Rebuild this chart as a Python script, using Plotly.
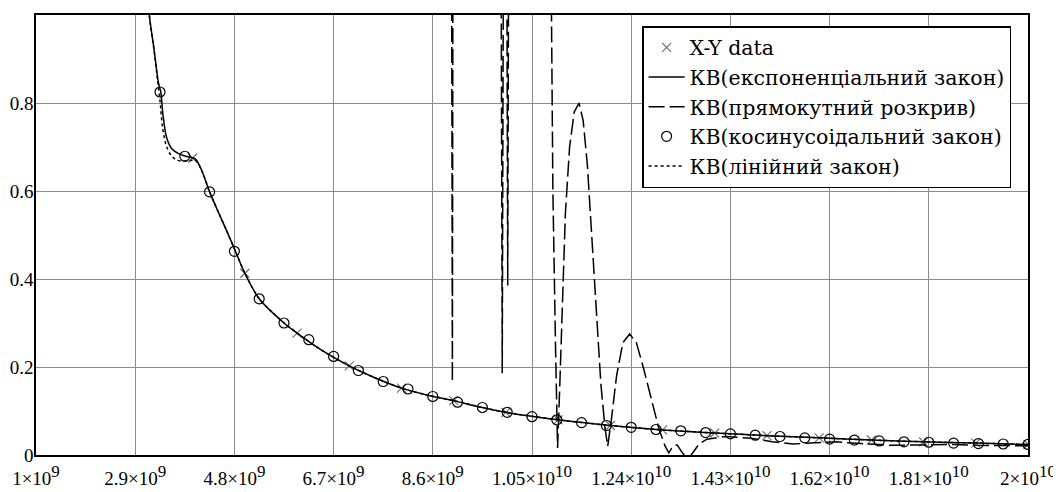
import plotly.graph_objects as go

# ---------------- data (frequency in GHz) ----------------
xy_f = [4, 5, 6, 7, 8, 9, 10, 11, 12, 13, 14, 15, 16, 17, 18, 19, 20]
xy_y = [0.675, 0.413, 0.277, 0.2025, 0.152, 0.1236, 0.097, 0.080, 0.067, 0.057,
        0.050, 0.044, 0.039, 0.034, 0.030, 0.027, 0.024]

exp_f = [3.10, 3.17, 3.26, 3.345, 3.39, 3.43, 3.50, 3.60, 3.73, 3.87, 4.05, 4.18,
         4.325, 4.50, 4.65, 4.81, 5.0, 5.275, 5.75, 6.0, 6.5, 7.0, 7.5, 8.0, 8.5,
         9.0, 9.5, 10.0, 11.0, 12.0, 13.0, 14.0, 15.0, 16.0, 17.0, 18.0, 19.0, 20.0]
exp_y = [1.12, 1.0, 0.923, 0.846, 0.825, 0.775, 0.722, 0.696, 0.685, 0.679, 0.673, 0.645,
         0.598, 0.55, 0.51, 0.466, 0.413, 0.355, 0.300, 0.277, 0.236, 0.2025, 0.175, 0.152, 0.136,
         0.1236, 0.109, 0.097, 0.080, 0.067, 0.057, 0.050, 0.044, 0.039, 0.034, 0.030, 0.027, 0.024]

rect_f = [8.955, 8.975, 8.99, 9.90, 9.93, 9.96, 10.01, 10.035, 10.06, 10.84, 10.90, 10.95,
          10.99, 11.03, 11.08, 11.14, 11.22, 11.31, 11.40, 11.48, 11.56, 11.64, 11.73,
          11.82, 11.90, 11.95, 12.02, 12.12, 12.24, 12.37, 12.50, 12.63, 12.78, 12.93,
          13.05, 13.12, 13.20, 13.28, 13.38, 13.48, 13.58, 13.70, 13.85, 14.2, 14.7,
          15.1, 15.5, 15.9, 16.3, 16.8, 17.4, 18.0, 18.5, 19.0, 19.5, 20.0]
rect_y = [1.5, 0.167, 1.5, 1.5, 0.186, 1.5, 1.5, 0.385, 1.5, 1.5, 0.6, 0.25,
          0.016, 0.15, 0.35, 0.55, 0.70, 0.78, 0.80, 0.76, 0.66, 0.50, 0.32,
          0.16, 0.06, 0.02, 0.08, 0.18, 0.255, 0.275, 0.255, 0.20, 0.13, 0.06,
          0.02, 0.005, 0.02, 0.023, 0.005, -0.01, 0.005, 0.025, 0.036, 0.042, 0.038,
          0.030, 0.025, 0.028, 0.030, 0.026, 0.022, 0.023, 0.024, 0.022, 0.021, 0.021]

cos_f = [3.375, 3.85, 4.325, 4.8, 5.275, 5.75, 6.225, 6.7, 7.175, 7.65, 8.125, 8.6,
         9.075, 9.55, 10.025, 10.5, 10.975, 11.45, 11.925, 12.4, 12.875, 13.35,
         13.825, 14.3, 14.775, 15.25, 15.725, 16.2, 16.675, 17.15, 17.625, 18.1,
         18.575, 19.05, 19.525, 20.0]
cos_y = [0.825, 0.679, 0.598, 0.463, 0.355, 0.300, 0.262, 0.224, 0.192, 0.167, 0.150, 0.133,
         0.120, 0.108, 0.097, 0.087, 0.080, 0.0735, 0.067, 0.063, 0.058, 0.055,
         0.051, 0.048, 0.045, 0.042, 0.039, 0.036, 0.034, 0.032, 0.030, 0.029,
         0.027, 0.026, 0.025, 0.024]

lin_f = [3.10, 3.17, 3.26, 3.33, 3.38, 3.42, 3.50, 3.60, 3.70, 3.83, 3.95, 4.05, 4.18,
         4.325, 4.50, 4.65, 4.81, 5.0, 5.275, 5.75, 6.0, 6.5, 7.0, 7.5, 8.0, 8.5,
         9.0, 9.5, 10.0, 11.0, 12.0, 13.0, 14.0, 15.0, 16.0, 17.0, 18.0, 19.0, 20.0]
lin_y = [1.12, 1.0, 0.92, 0.85, 0.80, 0.747, 0.701, 0.679, 0.670, 0.668, 0.669, 0.671, 0.645,
         0.598, 0.55, 0.51, 0.466, 0.413, 0.355, 0.300, 0.277, 0.236, 0.2025, 0.175, 0.152, 0.136,
         0.1236, 0.109, 0.097, 0.080, 0.067, 0.057, 0.050, 0.044, 0.039, 0.034, 0.030, 0.027, 0.024]

x_tickvals = [1.0, 2.9, 4.8, 6.7, 8.6, 10.5, 12.4, 14.3, 16.2, 18.1, 20.0]
x_mant = ["1", "2.9", "4.8", "6.7", "8.6", "1.05", "1.24", "1.43", "1.62", "1.81", "2"]
x_exp = ["9", "9", "9", "9", "9", "10", "10", "10", "10", "10", "10"]
y_tickvals = [0, 0.2, 0.4, 0.6, 0.8]
y_ticktext = ["0", "0.2", "0.4", "0.6", "0.8"]

names = ["X-Y data", "КВ(експоненціальний закон)", "КВ(прямокутний розкрив)",
         "КВ(косинусоідальний закон)", "КВ(лінійний закон)"]

SERIF = "Liberation Serif, Times New Roman, serif"
LEG_FONT = "DejaVu Serif, serif"

x_ticktext = [m + "×10<sup><span style='font-size:17px'>" + e + "</span></sup>"
              for m, e in zip(x_mant, x_exp)]

# ---------------- figure ----------------
fig = go.Figure()
fig.add_trace(go.Scatter(x=xy_f, y=xy_y, mode="markers", name=names[0],
                         marker=dict(symbol="x-thin-open", size=9, color="#707070",
                                     line=dict(color="#707070", width=1.2))))
fig.add_trace(go.Scatter(x=exp_f, y=exp_y, mode="lines", name=names[1],
                         line=dict(color="black", width=1.5, shape="spline", smoothing=0.8)))
fig.add_trace(go.Scatter(x=rect_f, y=rect_y, mode="lines", name=names[2],
                         line=dict(color="black", width=1.5, dash="16px,5px")))
fig.add_trace(go.Scatter(x=cos_f, y=cos_y, mode="markers", name=names[3],
                         marker=dict(symbol="circle-open", size=10, color="black",
                                     line=dict(color="black", width=1.2))))
fig.add_trace(go.Scatter(x=lin_f, y=lin_y, mode="lines", name=names[4],
                         line=dict(color="black", width=1.5, dash="dot", shape="spline", smoothing=0.8)))

axis_common = dict(showline=True, linecolor="black", linewidth=1.5, mirror=True,
                   showgrid=True, gridcolor="#8c8c8c", gridwidth=1, zeroline=False,
                   automargin=False,
                   ticks="", tickfont=dict(family=SERIF, size=19, color="black"))

fig.update_xaxes(range=[1.0, 20.0], tickmode="array", tickvals=x_tickvals,
                 ticktext=x_ticktext, ticklabelstandoff=5, **axis_common)
fig.update_yaxes(range=[0, 1.0], tickmode="array", tickvals=y_tickvals + [1.0],
                 ticktext=y_ticktext + [""], ticklabelstandoff=-3, **axis_common)

fig.update_layout(
    width=1053, height=484,
    margin=dict(l=28, r=33, t=7, b=37),
    paper_bgcolor="white", plot_bgcolor="white",
    showlegend=True,
    legend=dict(x=0.611, y=0.975, xanchor="left", yanchor="top",
                bgcolor="white", bordercolor="black", borderwidth=1.5,
                font=dict(family=LEG_FONT, size=20.5, color="black"),
                tracegroupgap=0, itemwidth=36),
    font=dict(family=SERIF, size=19, color="black"),
)

fig.write_html("out.html")
